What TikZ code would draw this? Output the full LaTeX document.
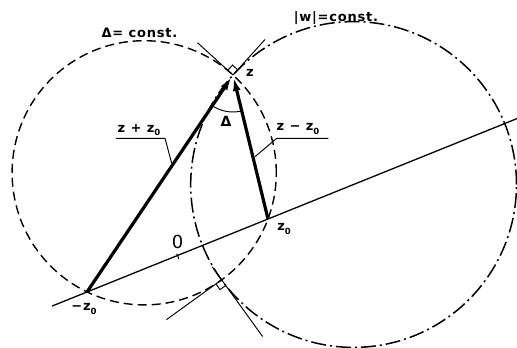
\documentclass[tikz,border=0pt]{standalone}
\usepackage{fontspec}
\setmainfont{DejaVu Sans}
\newfontfamily\lab{DejaVu Sans}[LetterSpace=6]
\usetikzlibrary{arrows.meta}
\newcommand\zsub[1]{\raisebox{-0.45ex}{\fontsize{8.5}{8.5}\selectfont #1}}
\begin{document}
\begin{tikzpicture}[x=1pt,y=-1pt,
  thinline/.style={line width=0.95pt},
  dcirc/.style={line width=1.4pt, dash pattern=on 9pt off 5pt},
  dccirc/.style={line width=1.5pt, dash pattern=on 15pt off 4pt on 2pt off 4pt},
  vec/.style={line width=3.2pt, -{Latex[length=16pt,width=7.5pt]}},
  lbl/.style={font=\lab\bfseries\fontsize{13}{13}\selectfont, inner sep=0pt}]
\useasboundingbox (0,0) rectangle (517,348);
% points
\coordinate (mz0) at (87,292);
\coordinate (z0) at (268,219);
\coordinate (z) at (233,75);
\coordinate (z2) at (221.6,279.8);
\coordinate (C1) at (144.2,172.8);
\coordinate (C2) at (353.6,184.5);
\coordinate (Ls) at (52,306.1);
\coordinate (Le) at (517,118.6);
\coordinate (T1) at (176.75,253.6);
\coordinate (T2) at (179,259.2);
% tangent lines
\coordinate (A1) at (197.5,42.7);
\coordinate (A2) at (265,39.5);
\coordinate (B1) at (166.5,319.6);
\coordinate (B2a) at (212.2,266.8);
\coordinate (B2b) at (262.6,336.5);
\coordinate (P1) at (227.8,70.3);
\coordinate (P2) at (232.5,65.1);
\coordinate (P3) at (237.7,69.8);
\coordinate (Q1) at (215.9,283.9);
\coordinate (Q2) at (220.0,289.6);
\coordinate (Q3) at (225.7,285.5);
% leaders
\coordinate (U1) at (116,138.3);
\coordinate (U2) at (165,138.3);
\coordinate (U3) at (171.7,163.3);
\coordinate (V1) at (328.3,138.3);
\coordinate (V2) at (276.7,138.3);
\coordinate (V3) at (255,156.7);
\coordinate (R1) at (212.3,105.7);
% circles
\draw[dcirc] (C1) circle[radius=132.1pt];
\draw[dccirc] (C2) circle[radius=162.9pt];
% line through -z0, z0
\draw[line width=1.3pt] (Ls) -- (Le);
\draw[thinline] (T1) -- (T2);
% tangents and right angles
\draw[thinline] (A1) -- (z);
\draw[thinline] (A2) -- (z);
\draw[thinline] (P1) -- (P2) -- (P3);
\draw[thinline] (B1) -- (z2);
\draw[thinline] (B2a) -- (B2b);
\draw[thinline] (Q1) -- (Q2) -- (Q3);
% vectors
\draw[vec] (mz0) -- (z);
\draw[vec] (z0) -- (z);
% angle
\draw[thinline] (R1) arc[start angle=236.07, end angle=283.66, radius=37pt];
% leaders
\draw[thinline] (U1) -- (U2) -- (U3);
\draw[thinline] (V1) -- (V2) -- (V3);
% labels
\node[lbl] (lz) at (250,73) {z};
\node[lbl] (lz0) at (284,229) {z\zsub{0}};
\node[lbl] (lmz0) at (84,309) {−z\zsub{0}};
\node[lbl, font=\lab\fontsize{18}{18}\selectfont] (lO) at (177.5,241.7) {0};
\node[lbl, font=\lab\bfseries\fontsize{14}{14}\selectfont] (lD) at (226,121) {Δ};
\node[lbl] (lDc) at (139.5,32.5) {Δ= const.};
\node[lbl] (lw) at (336,18) {|w|=const.};
\node[lbl] (lsum) at (139,130) {z + z\zsub{0}};
\node[lbl] (ldif) at (298,129) {z − z\zsub{0}};
\end{tikzpicture}
\end{document}
